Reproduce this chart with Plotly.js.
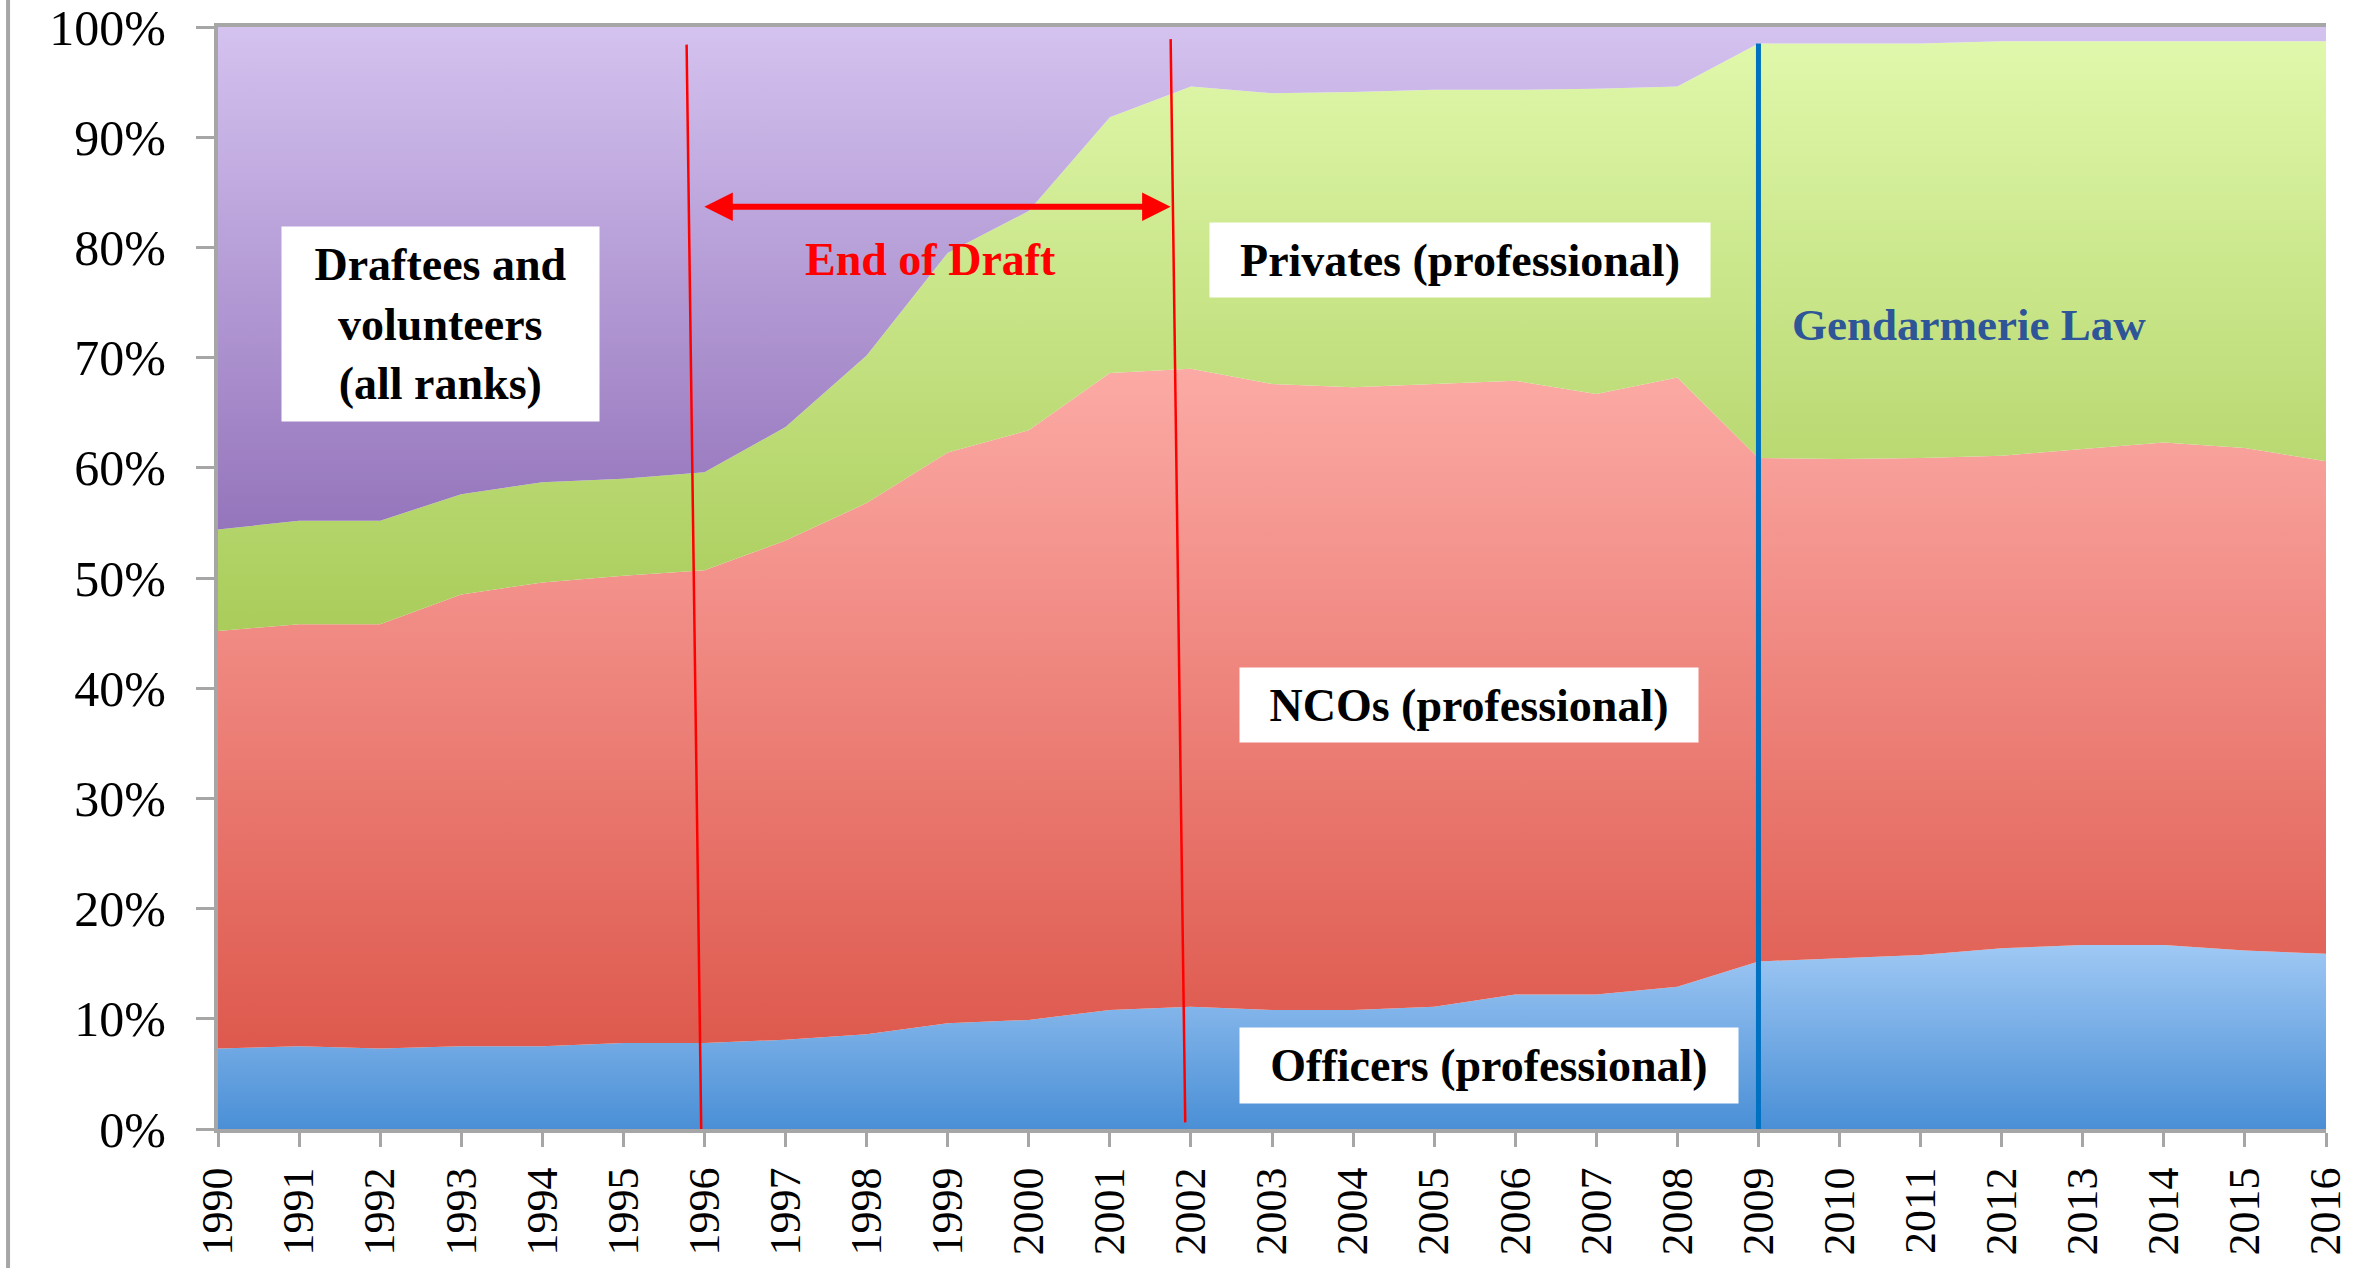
<!DOCTYPE html>
<html>
<head>
<meta charset="utf-8">
<script src="https://cdn.plot.ly/plotly-3.0.1.min.js"></script>
<style>html,body{margin:0;padding:0;background:#fff;}#chart{width:2366px;height:1268px;}</style>
</head>
<body>
<div id="chart"></div>
<script>
// ---- data (shares of personnel, %) ----
const years = [1990,1991,1992,1993,1994,1995,1996,1997,1998,1999,2000,2001,2002,2003,2004,2005,2006,2007,2008,2009,2010,2011,2012,2013,2014,2015,2016];
const officers = [7.3,7.5,7.3,7.5,7.5,7.8,7.8,8.1,8.6,9.6,9.9,10.8,11.1,10.8,10.8,11.1,12.2,12.2,12.9,15.2,15.5,15.8,16.4,16.7,16.7,16.2,15.9];
const ncos = [37.9,38.3,38.5,41.0,42.1,42.4,42.9,45.3,48.2,51.8,53.5,57.8,57.9,56.8,56.5,56.5,55.7,54.5,55.3,45.7,45.3,45.1,44.7,45.0,45.6,45.6,44.7];
const privates = [9.2,9.4,9.4,9.1,9.1,8.8,8.9,10.3,13.4,18.1,19.9,23.2,25.6,26.4,26.8,26.7,26.4,27.7,26.4,37.6,37.7,37.6,37.6,37.0,36.4,36.9,38.1];
const draftees = [45.6,44.8,44.8,42.4,41.3,41.0,40.4,36.3,29.8,20.5,16.7,8.2,5.4,6.0,5.9,5.7,5.7,5.6,5.4,1.5,1.5,1.5,1.3,1.3,1.3,1.3,1.3];
const yTickVals = [0,10,20,30,40,50,60,70,80,90,100];
const yTickText = ['0%','10%','20%','30%','40%','50%','60%','70%','80%','90%','100%'];
const yearLabels = years.map(String);

// events
const draftStartYear = 1996;
const draftEndYear = 2002;
const lawYear = 2009;

const serif = 'Liberation Serif, Times New Roman, serif';

function area(name, y, c0, c1, g0, g1) {
  return {
    type: 'scatter', mode: 'none', name: name, x: years, y: y,
    stackgroup: 'one', groupnorm: 'percent', fill: 'tonexty',
    fillcolor: c1,
    fillgradient: {type: 'vertical', start: g0, stop: g1, colorscale: [[0, c0], [1, c1]]},
    line: {width: 0}, hoverinfo: 'skip'
  };
}

const traces = [
  area('Officers (professional)', officers, '#4a8fd6', '#9fc8f4', 0, 16.7),
  area('NCOs (professional)', ncos, '#da4f43', '#fcaaa5', 0, 69),
  area('Privates (professional)', privates, '#a9cc5a', '#e0f8ab', 45, 98.7),
  area('Draftees and volunteers (all ranks)', draftees, '#9474bb', '#d4c2ef', 54, 100)
];

const boxFont = {family: serif, size: 46, color: '#000', weight: 'bold'};

const layout = {
  width: 2366, height: 1268,
  margin: {l: 218, r: 40, t: 27, b: 139},
  paper_bgcolor: '#fff', plot_bgcolor: '#fff',
  showlegend: false,
  xaxis: {
    range: [years[0], years[years.length - 1]],
    tickmode: 'array', tickvals: years, ticktext: yearLabels,
    tickangle: -90, tickfont: {family: serif, size: 44, color: '#000'},
    ticks: 'outside', ticklen: 14, tickwidth: 3, tickcolor: '#a6a6a6',
    ticklabelstandoff: 3, ticklabeloverflow: 'allow',
    showline: true, linecolor: '#a6a6a6', linewidth: 4, mirror: true,
    showgrid: false, zeroline: false, fixedrange: true
  },
  yaxis: {
    range: [0, 100.001], tickmode: 'array', tickvals: yTickVals, ticktext: yTickText,
    tickfont: {family: serif, size: 50, color: '#000'},
    ticks: 'outside', ticklen: 18, tickwidth: 3, tickcolor: '#a6a6a6',
    ticklabelstandoff: 20, ticklabeloverflow: 'allow',
    showline: true, linecolor: '#a6a6a6', linewidth: 4,
    showgrid: false, zeroline: false, fixedrange: true
  },
  shapes: [
    {type: 'line', xref: 'paper', yref: 'paper', x0: -0.0996, x1: -0.0996, y0: -0.13, y1: 1.03,
     line: {color: '#a6a6a6', width: 4}},
    {type: 'line', xref: 'x', yref: 'y', x0: draftStartYear - 0.22, y0: 98.4, x1: draftStartYear - 0.04, y1: 0,
     line: {color: '#ff0000', width: 2.5}},
    {type: 'line', xref: 'x', yref: 'y', x0: draftEndYear - 0.25, y0: 98.9, x1: draftEndYear - 0.07, y1: 0.6,
     line: {color: '#ff0000', width: 2.5}},
    {type: 'line', xref: 'x', yref: 'y', x0: lawYear, y0: 98.5, x1: lawYear, y1: 0,
     line: {color: '#0070c0', width: 5}}
  ],
  annotations: [
    {x: draftEndYear - 0.25, y: 83.7, ax: draftStartYear - 0.02, ay: 83.7, axref: 'x', ayref: 'y', xref: 'x', yref: 'y',
     text: '', showarrow: true, arrowhead: 2, startarrowhead: 2, arrowside: 'end+start',
     arrowsize: 0.95, startarrowsize: 0.95, arrowwidth: 6, arrowcolor: '#ff0000', standoff: 0, startstandoff: 0},
    {x: 1992.74, y: 73.05, xref: 'x', yref: 'y', showarrow: false,
     text: 'Draftees and<br>volunteers<br>(all ranks)', font: boxFont, bgcolor: '#fff',
     width: 317, height: 194, borderpad: 0},
    {x: 1998.79, y: 78.9, xref: 'x', yref: 'y', showarrow: false,
     text: 'End of Draft', font: {family: serif, size: 46, color: '#ff0000', weight: 'bold'}},
    {x: 2005.32, y: 78.86, xref: 'x', yref: 'y', showarrow: false,
     text: 'Privates (professional)', font: boxFont, bgcolor: '#fff', width: 500, height: 74, borderpad: 0},
    {x: 2011.6, y: 73.0, xref: 'x', yref: 'y', showarrow: false,
     text: 'Gendarmerie Law', font: {family: serif, size: 45, color: '#2e5597', weight: 'bold'}},
    {x: 2005.43, y: 38.5, xref: 'x', yref: 'y', showarrow: false,
     text: 'NCOs (professional)', font: boxFont, bgcolor: '#fff', width: 458, height: 74, borderpad: 0},
    {x: 2005.68, y: 5.8, xref: 'x', yref: 'y', showarrow: false,
     text: 'Officers (professional)', font: boxFont, bgcolor: '#fff', width: 498, height: 75, borderpad: 0}
  ]
};

Plotly.newPlot('chart', traces, layout, {displayModeBar: false, staticPlot: true});
</script>
</body>
</html>
